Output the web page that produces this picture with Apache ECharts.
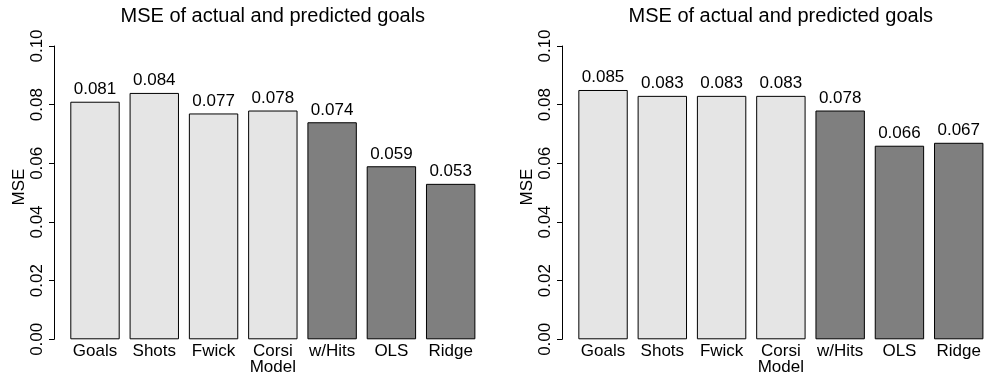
<!DOCTYPE html>
<html>
<head>
<meta charset="utf-8">
<script src="https://cdn.jsdelivr.net/npm/echarts@6/dist/echarts.min.js"></script>
<style>
  html, body { margin: 0; padding: 0; background: #fff; overflow: hidden; }
  /* the right-hand panel's plot region runs slightly past the page edge */
  #chart { width: 1000px; height: 377px; }
</style>
</head>
<body>
<div id="chart"></div>
<script>
// Model names along the x axis
const models = ['Goals', 'Shots', 'Fwick', 'Corsi', 'w/Hits', 'OLS', 'Ridge'];
// Single-feature models (drawn light); the rest are combined models (drawn dark)
const singleFeatureModels = ['Goals', 'Shots', 'Fwick', 'Corsi'];
// MSE per model, two evaluation runs
const mseLeft = [0.081, 0.084, 0.077, 0.078, 0.074, 0.059, 0.053];
const mseRight = [0.085, 0.083, 0.083, 0.083, 0.078, 0.066, 0.067];
// y axis ticks
const yTicks = [0, 0.02, 0.04, 0.06, 0.08, 0.10];
const chartTitle = 'MSE of actual and predicted goals';
const yName = 'MSE';
const xName = 'Model';

const FONT = '"Liberation Sans", Arial, Helvetica, sans-serif';
const FS = 17;
const LIGHT = '#e5e5e5';
const DARK = '#7f7f7f';

// panel geometry
const plotTop = 46;
const plotHeight = 293.3;
const bandWidth = 59.28;
const barW = 49.4;
const panels = [
  { axisX: 54, gridLeft: 65.36, data: mseLeft },
  { axisX: 562, gridLeft: 573.4, data: mseRight }
];

const chart = echarts.init(document.getElementById('chart'), null, { renderer: 'canvas' });

const grids = [], xAxes = [], yAxes = [], series = [], titles = [], graphics = [];
panels.forEach((p, i) => {
  const gridWidth = bandWidth * models.length;
  grids.push({ left: p.gridLeft, top: plotTop, width: gridWidth, height: plotHeight, containLabel: false });
  xAxes.push({
    type: 'category', gridIndex: i, data: models,
    axisLine: { show: false }, axisTick: { show: false },
    axisLabel: { color: '#000', fontFamily: FONT, fontSize: FS, lineHeight: FS, margin: 3.3, interval: 0 }
  });
  yAxes.push({
    type: 'value', gridIndex: i, min: yTicks[0], max: yTicks[yTicks.length - 1], interval: 0.02,
    offset: p.gridLeft - p.axisX,
    axisLine: { show: true, lineStyle: { color: '#000', width: 1 } },
    axisTick: { show: true, length: 5, lineStyle: { color: '#000', width: 1 } },
    splitLine: { show: false },
    axisLabel: {
      color: '#000', fontFamily: FONT, fontSize: FS, lineHeight: FS, rotate: 90, margin: 8,
      formatter: v => v.toFixed(2)
    }
  });
  series.push({
    type: 'bar', xAxisIndex: i, yAxisIndex: i, barWidth: barW,
    data: p.data.map((v, k) => ({
      value: v,
      itemStyle: { color: singleFeatureModels.includes(models[k]) ? LIGHT : DARK }
    })),
    itemStyle: { borderColor: '#000', borderWidth: 1 },
    label: {
      show: true, position: 'top', distance: 3.8,
      color: '#000', fontFamily: FONT, fontSize: FS, lineHeight: FS,
      formatter: d => d.value.toFixed(3)
    },
    emphasis: { disabled: true },
    animation: false
  });
  const center = p.axisX + 218.8;
  titles.push({
    text: chartTitle, left: center, top: 6, textAlign: 'center', padding: 0,
    textStyle: { color: '#000', fontFamily: FONT, fontSize: 20, lineHeight: 20, fontWeight: 'normal' }
  });
  graphics.push({
    type: 'text', x: p.axisX - 34.3, y: 187, rotation: Math.PI / 2,
    style: { text: yName, fill: '#000', font: FS + 'px ' + FONT, textAlign: 'center', textVerticalAlign: 'middle' }
  });
  graphics.push({
    type: 'text', x: center, y: 367,
    style: { text: xName, fill: '#000', font: FS + 'px ' + FONT, textAlign: 'center', textVerticalAlign: 'middle' }
  });
});

chart.setOption({
  backgroundColor: '#fff',
  animation: false,
  title: titles,
  grid: grids,
  xAxis: xAxes,
  yAxis: yAxes,
  series: series,
  graphic: graphics
});
</script>
</body>
</html>
